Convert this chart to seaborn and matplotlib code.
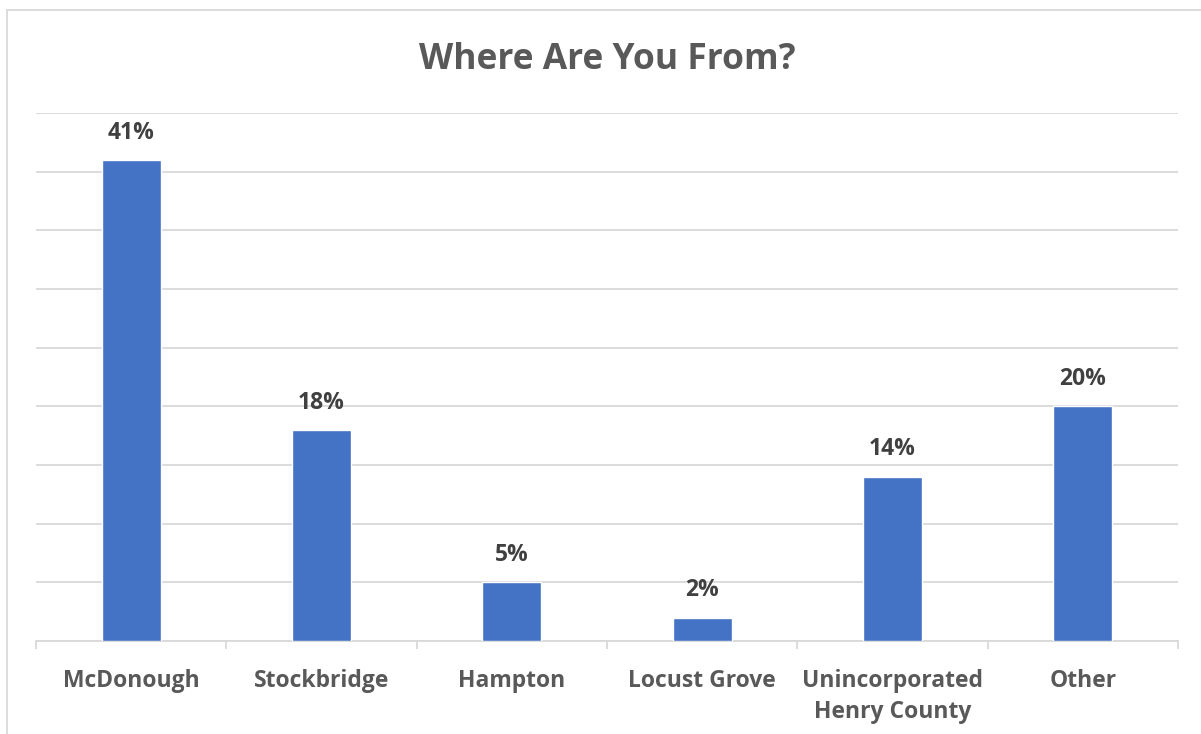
import matplotlib
matplotlib.use('Agg')
import matplotlib.pyplot as plt
import seaborn as sns
import pandas as pd
from matplotlib.patches import Rectangle
from matplotlib.ticker import MultipleLocator, FixedLocator

# data
categories = ['McDonough', 'Stockbridge', 'Hampton', 'Locust Grove',
              'Unincorporated\nHenry County', 'Other']
shares = [41, 18, 5, 2, 14, 20]
bar_labels = ['41%', '18%', '5%', '2%', '14%', '20%']

sns.set_theme(style='white')
plt.rcParams['font.family'] = ['Open Sans', 'DejaVu Sans']

df = pd.DataFrame({'place': categories, 'share': shares})

fig = plt.figure(figsize=(12.01, 7.34), dpi=100)
ax = fig.add_axes([36 / 1201, 1 - 641 / 734, (1178 - 36) / 1201, (641 - 113) / 734])

sns.barplot(data=df, x='place', y='share', color='#4472C4', saturation=1,
            width=0.31, ax=ax, zorder=3)

ax.set_ylim(0, 45)
ax.set_xlim(-0.5, len(categories) - 0.5)
ax.yaxis.set_major_locator(MultipleLocator(5))
ax.grid(axis='y', color='#d9d9d9', linewidth=1.3, zorder=0)
ax.set_yticklabels([])
ax.tick_params(axis='y', length=0)
ax.set_xlabel('')
ax.set_ylabel('')
for s in ['left', 'right', 'top']:
    ax.spines[s].set_visible(False)
ax.spines['bottom'].set_color('#d9d9d9')
ax.spines['bottom'].set_linewidth(1.3)

# category separators below the axis line
ax.xaxis.set_minor_locator(FixedLocator([i - 0.5 for i in range(len(categories) + 1)]))
ax.tick_params(axis='x', which='minor', bottom=True, length=6, width=1.3,
               color='#d9d9d9', direction='out')
ax.tick_params(axis='x', which='major', length=0, pad=20, labelsize=16.5,
               labelcolor='#595959')
for lbl in ax.get_xticklabels():
    lbl.set_fontweight('bold')
    lbl.set_linespacing(1.4)

for i, (v, t) in enumerate(zip(shares, bar_labels)):
    ax.annotate(t, (i, v), xytext=(0, 11), textcoords='offset points',
                ha='center', va='bottom', fontsize=16.5, fontweight='bold',
                color='#404040')

fig.text(607 / 1201, 1 - 60 / 734, 'Where Are You From?', ha='center', va='center',
         fontsize=25.5, fontweight='bold', color='#595959')

# chart area border (cut at right and bottom like the reference)
fig.patches.append(Rectangle((7 / 1201, -0.1), 1.2, 1 - 10 / 734 + 0.1,
                             transform=fig.transFigure, fill=False,
                             edgecolor='#d9d9d9', linewidth=1.3))

fig.savefig('out.png', dpi=100)
